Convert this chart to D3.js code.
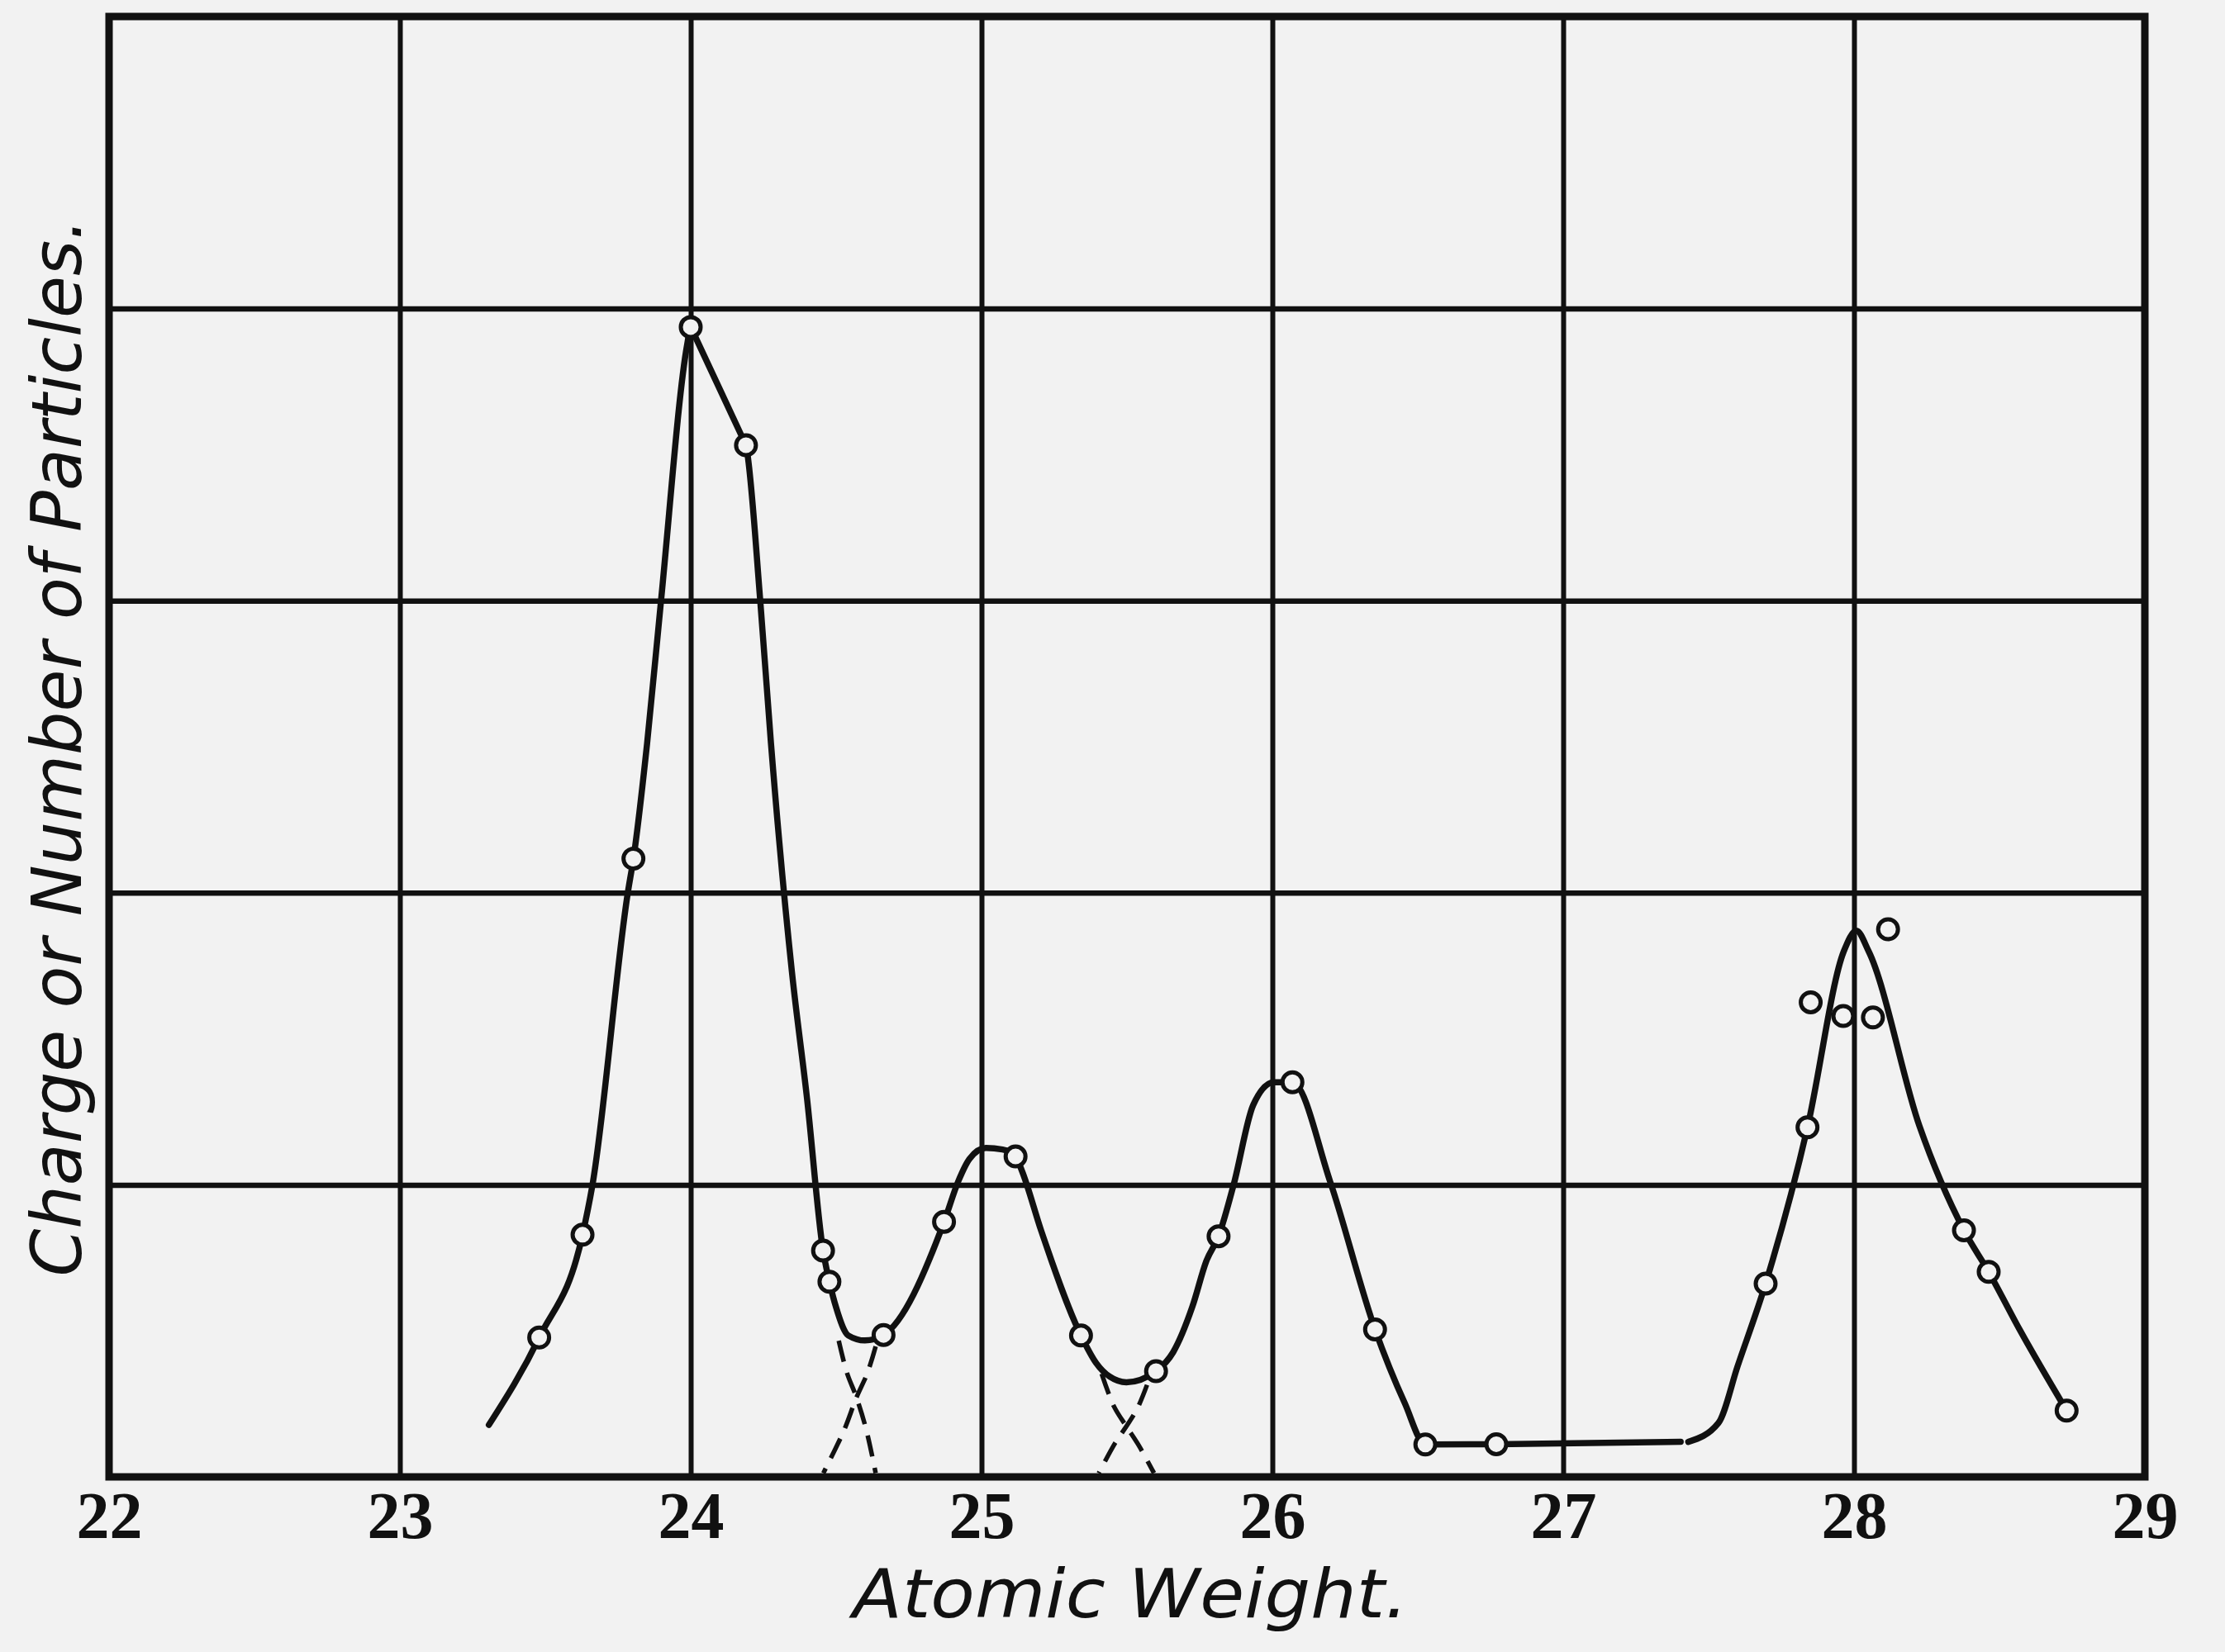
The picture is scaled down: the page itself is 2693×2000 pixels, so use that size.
<!DOCTYPE html>
<html>
<head>
<meta charset="utf-8">
<script src="https://cdn.jsdelivr.net/npm/d3@7"></script>
<style>
  html, body { margin: 0; padding: 0; background: #f2f2f2; }
  svg { display: block; }
</style>
</head>
<body>
<script>
// ---------------- DATA ----------------
const xTicks = [22, 23, 24, 25, 26, 27, 28, 29];
const yGridValues = [0, 1, 2, 3, 4, 5];
const xTitle = "Atomic Weight.";
const yTitle = "Charge or Number of Particles.";

// observed readings (atomic weight, charge)
const observations = [
  [23.479, 0.477], [23.628, 0.829], [23.803, 2.117], [24.000, 3.937],
  [24.190, 3.532], [24.455, 0.775], [24.477, 0.668], [24.663, 0.486],
  [24.871, 0.873], [25.117, 1.097], [25.342, 0.484], [25.600, 0.362],
  [25.815, 0.824], [26.069, 1.351], [26.353, 0.505], [26.526, 0.111],
  [26.770, 0.112], [27.696, 0.662], [27.840, 1.197], [27.851, 1.625],
  [27.963, 1.578], [28.065, 1.573], [28.117, 1.875], [28.378, 0.844],
  [28.463, 0.702], [28.731, 0.227]
];

// hand-drawn smooth curve, first stretch (peaks 24, 25, 26 and plateau)
const curveMain = [
  [23.306, 0.178], [23.479, 0.477], [23.628, 0.829], [23.661, 0.993],
  [23.784, 2.002], [23.803, 2.117], [23.850, 2.511], [23.898, 3.001],
  [23.988, 3.878], [24.000, 3.937], [24.015, 3.905], [24.175, 3.564],
  [24.190, 3.532], [24.239, 3.001],
  [24.276, 2.511], [24.348, 1.729], [24.400, 1.295], [24.455, 0.775],
  [24.477, 0.668], [24.500, 0.580], [24.542, 0.484], [24.599, 0.467],
  [24.663, 0.486], [24.871, 0.873], [24.920, 1.012], [24.958, 1.088],
  [25.015, 1.126], [25.072, 1.121], [25.117, 1.097], [25.138, 1.050],
  [25.205, 0.843], [25.342, 0.484], [25.394, 0.390], [25.441, 0.343],
  [25.498, 0.324], [25.600, 0.362], [25.659, 0.427], [25.725, 0.583],
  [25.773, 0.739], [25.815, 0.824], [25.867, 1.001], [25.934, 1.273],
  [26.005, 1.351], [26.069, 1.351], [26.199, 1.010], [26.353, 0.505],
  [26.455, 0.253], [26.526, 0.111], [26.770, 0.112], [27.404, 0.120]
];

// second stretch (peak 28)
const curvePeak28 = [
  [27.430, 0.120], [27.534, 0.185], [27.600, 0.380], [27.696, 0.662],
  [27.840, 1.197], [27.965, 1.800], [28.008, 1.870], [28.050, 1.800],
  [28.225, 1.201], [28.378, 0.844], [28.463, 0.702], [28.573, 0.498],
  [28.731, 0.227]
];

// dashed continuations of the overlapping peaks
const dashedTails = [
  [[24.509, 0.466], [24.537, 0.357], [24.570, 0.272], [24.603, 0.164], [24.636, 0.013]],
  [[24.636, 0.447], [24.608, 0.357], [24.570, 0.272], [24.527, 0.159], [24.456, 0.013]],
  [[25.413, 0.353], [25.456, 0.240], [25.498, 0.173], [25.541, 0.107], [25.593, 0.013]],
  [[25.569, 0.315], [25.536, 0.235], [25.498, 0.173], [25.460, 0.117], [25.403, 0.013]]
];

// ---------------- DRAW ----------------
const W = 2693, H = 2000;
const ink = "#111111";
const paper = "#f2f2f2";

const svg = d3.select("body").append("svg")
  .attr("width", W).attr("height", H)
  .style("background", paper);

const x = d3.scaleLinear().domain([22, 29]).range([132, 2596]);
const y = d3.scaleLinear().domain([0, 5]).range([1788, 20]);

// vertical grid via axis
const gx = svg.append("g")
  .attr("transform", `translate(0,${y(0)})`)
  .call(d3.axisBottom(x).tickValues(xTicks).tickSize(-(y(0) - y(5))).tickFormat(""));
gx.select(".domain").remove();
gx.selectAll(".tick line").attr("stroke", ink).attr("stroke-width", 6);

// horizontal grid via axis
const gy = svg.append("g")
  .attr("transform", `translate(${x(22)},0)`)
  .call(d3.axisLeft(y).tickValues(yGridValues).tickSize(-(x(29) - x(22))).tickFormat(""));
gy.select(".domain").remove();
gy.selectAll(".tick line").attr("stroke", ink).attr("stroke-width", 6.5);

// frame
svg.append("rect")
  .attr("x", x(22)).attr("y", y(5))
  .attr("width", x(29) - x(22)).attr("height", y(0) - y(5))
  .attr("fill", "none").attr("stroke", ink).attr("stroke-width", 9);

// x tick labels via axis
const xl = svg.append("g")
  .attr("transform", `translate(0,${y(0)})`)
  .call(d3.axisBottom(x).tickValues(xTicks).tickSize(0).tickPadding(0).tickFormat(d3.format("d")));
xl.select(".domain").remove();
xl.selectAll(".tick text")
  .attr("y", 74).attr("dy", null)
  .attr("fill", ink)
  .style("font-family", "'Liberation Serif', serif")
  .style("font-weight", "bold")
  .style("font-size", "80px");

const line = d3.line()
  .x(d => x(d[0])).y(d => y(d[1]))
  .curve(d3.curveMonotoneX);

// dashed tails
svg.append("g").selectAll("path").data(dashedTails).join("path")
  .attr("d", d3.line().x(d => x(d[0])).y(d => y(d[1])).curve(d3.curveCatmullRom.alpha(0.5)))
  .attr("fill", "none").attr("stroke", ink)
  .attr("stroke-width", 5.5)
  .attr("stroke-dasharray", "26,14");

// solid curves
svg.append("g").selectAll("path").data([curveMain, curvePeak28]).join("path")
  .attr("d", line)
  .attr("fill", "none").attr("stroke", ink)
  .attr("stroke-width", 7.5)
  .attr("stroke-linejoin", "round")
  .attr("stroke-linecap", "round");

// observation circles
svg.append("g").selectAll("circle").data(observations).join("circle")
  .attr("cx", d => x(d[0])).attr("cy", d => y(d[1]))
  .attr("r", 12)
  .attr("fill", paper)
  .attr("stroke", ink).attr("stroke-width", 5);

// axis titles
svg.append("text")
  .attr("x", 1368).attr("y", 1958)
  .attr("text-anchor", "middle")
  .attr("textLength", 672).attr("lengthAdjust", "spacingAndGlyphs")
  .attr("fill", ink)
  .style("font-family", "'DejaVu Sans', sans-serif")
  .style("font-style", "italic")
  .style("font-size", "82px")
  .text(xTitle);

svg.append("text")
  .attr("transform", "translate(98,905) rotate(-90)")
  .attr("text-anchor", "middle")
  .attr("textLength", 1281).attr("lengthAdjust", "spacingAndGlyphs")
  .attr("fill", ink)
  .style("font-family", "'DejaVu Sans', sans-serif")
  .style("font-style", "italic")
  .style("font-size", "84px")
  .text(yTitle);
</script>
</body>
</html>
